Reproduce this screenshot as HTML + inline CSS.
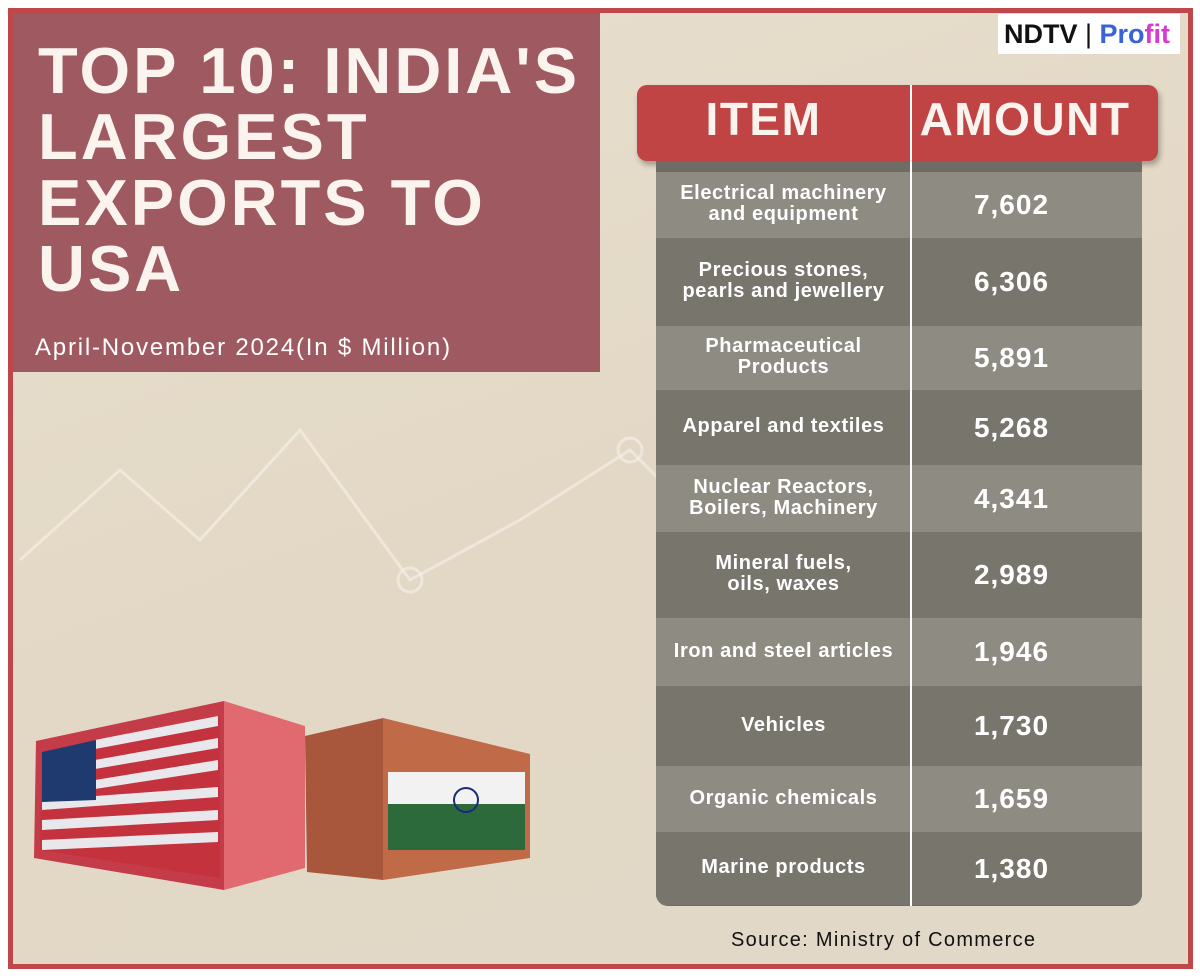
<!DOCTYPE html>
<html><head><meta charset="utf-8"><style>
*{margin:0;padding:0;box-sizing:border-box}
body{width:1200px;height:979px;background:#fff;position:relative;overflow:hidden;font-family:"Liberation Sans",sans-serif}
#frame{position:absolute;left:8px;top:8px;width:1185px;height:961px;border:5px solid #c0464a;background:linear-gradient(160deg,#e8dfcf 0%,#e3d8c5 50%,#e2d8c8 100%)}
#title-box{position:absolute;left:13px;top:13px;width:587px;height:359px;background:#9e5a60}
#title{position:absolute;left:38px;top:38px;color:#fbf4ee;font-weight:900;font-size:65px;line-height:66px;letter-spacing:3px}
#subtitle{position:absolute;left:35px;top:334px;color:#fff;font-size:24px;letter-spacing:1.8px}
#logo{position:absolute;left:998px;top:14px;width:182px;height:40px;background:#fff;font-weight:900;font-size:27px;line-height:40px;padding-left:6px}
#header{position:absolute;left:637px;top:85px;width:521px;height:76px;background:#c04444;border-radius:10px;box-shadow:2px 4px 6px rgba(0,0,0,.3)}
.hcell{position:absolute;top:0;height:76px;line-height:68px;color:#fbf4ee;font-weight:900;font-size:46px;text-align:center;letter-spacing:1.5px}
#table{position:absolute;left:656px;top:161px;width:486px;height:745px;border-radius:0 0 12px 12px;overflow:hidden;background:#6e6c64}
.row{position:absolute;left:0;width:486px;display:flex;align-items:center}
.item{width:255px;text-align:center;color:#fff;font-weight:bold;font-size:20px;line-height:21px;letter-spacing:0.6px;margin-top:-2px}
.amt{flex:1;text-align:center;color:#fff;font-weight:bold;font-size:28px;letter-spacing:1px;padding-right:30px}
#divider{position:absolute;left:910px;top:85px;width:2px;height:821px;background:#fff}
#source{position:absolute;left:731px;top:929px;font-size:20px;color:#111;letter-spacing:1.3px}
</style></head><body>
<div id="frame"></div>
<svg style="position:absolute;left:0;top:0" width="1200" height="979">
<polyline points="20,560 120,470 200,540 300,430 410,580 520,520 630,450 700,520" fill="none" stroke="#f3eee4" stroke-width="3" opacity=".7"/>
<circle cx="410" cy="580" r="12" fill="none" stroke="#f3eee4" stroke-width="3" opacity=".7"/>
<circle cx="630" cy="450" r="12" fill="none" stroke="#f3eee4" stroke-width="3" opacity=".7"/>
</svg>
<div id="title-box"></div>
<div id="title">TOP 10: INDIA'S<br>LARGEST<br>EXPORTS TO<br>USA</div>
<div id="subtitle">April-November 2024(In $ Million)</div>
<div id="logo"><span style="color:#111">NDTV</span><span style="color:#111;font-weight:normal"> | </span><span style="color:#3a63d8">Pro</span><span style="color:#d83ad0">fit</span></div>
<div id="header">
<div class="hcell" style="left:0;width:253px">ITEM</div>
<div class="hcell" style="left:265px;width:246px">AMOUNT</div>
</div>
<div id="table"></div>
<div id="divider"></div>
<svg style="position:absolute;left:0;top:0" width="1200" height="979">
<polygon points="36,741 224,701 224,890 34,858" fill="#c43c48"/>
<g>
<polygon points="42,752 220,716 220,878 40,850" fill="#c4323e"/>
<polygon points="95,740 218,716 218,726 95,749" fill="#e8e8ec"/>
<polygon points="95,760 218,738 218,748 95,769" fill="#e8e8ec"/>
<polygon points="95,780 218,760 218,770 95,789" fill="#e8e8ec"/>
<polygon points="42,800 218,787 218,797 42,810" fill="#e8e8ec"/>
<polygon points="42,820 218,810 218,820 42,830" fill="#e8e8ec"/>
<polygon points="42,840 218,832 218,842 42,850" fill="#e8e8ec"/>
<polygon points="42,752 96,740 96,800 42,802" fill="#1f3a6e"/>
</g>
<polygon points="224,701 305,726 305,868 224,890" fill="#e06a70"/>
<polygon points="305,736 383,718 383,880 307,872" fill="#a8563c"/>
<polygon points="383,718 530,754 530,858 383,880" fill="#c06a48"/>
<g>
<rect x="388" y="772" width="137" height="32" fill="#f2f2f2"/>
<rect x="388" y="804" width="137" height="46" fill="#2c6a3c"/>
<circle cx="466" cy="800" r="12" fill="none" stroke="#1d2a7a" stroke-width="2"/>
</g>
</svg>
<div id="source">Source: Ministry of Commerce</div>
<script>
const items=["Electrical machinery<br>and equipment","Precious stones,<br>pearls and jewellery","Pharmaceutical<br>Products","Apparel and textiles","Nuclear Reactors,<br>Boilers, Machinery","Mineral fuels,<br>oils, waxes","Iron and steel articles","Vehicles","Organic chemicals","Marine products"];
const amounts=[7602,6306,5891,5268,4341,2989,1946,1730,1659,1380];
const rowBounds=[172,238,326,390,465,532,618,686,766,832,905];
const t=document.getElementById('table');
for(let i=0;i<items.length;i++){
 const r=document.createElement('div');
 r.className='row';
 
 
 r.style.top=(rowBounds[i]-161)+'px';
 r.style.height=(rowBounds[i+1]-rowBounds[i])+'px';
 r.style.background=i%2===0?'#8e8b82':'#77756c';
 const a=document.createElement('div');a.className='item';a.innerHTML=items[i];
 
 
 const b=document.createElement('div');b.className='amt';b.textContent=amounts[i].toLocaleString('en-US');
 
 
 r.appendChild(a);r.appendChild(b);t.appendChild(r);
}
</script>
</body></html>
